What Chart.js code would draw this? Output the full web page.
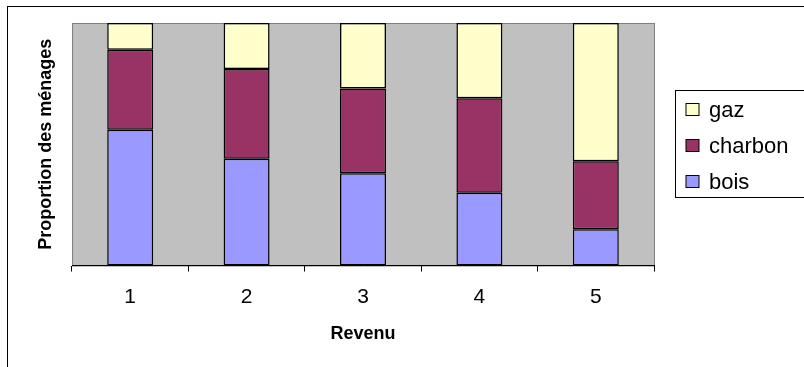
<!DOCTYPE html>
<html>
<head>
<meta charset="utf-8">
<script src="https://cdn.jsdelivr.net/npm/chart.js@4"></script>
<style>
  html, body { margin: 0; padding: 0; background: #fff; }
  #wrap { width: 804px; height: 367px; }
</style>
</head>
<body>
<div id="wrap"><canvas id="chart" width="804" height="367"></canvas></div>
<script>
// categories (revenu) and shares of households per fuel, in %
const revenus = ['1', '2', '3', '4', '5'];
const bois = [56, 44, 38, 30, 15];
const charbon = [33, 37, 35, 39, 28];
const gaz = [11, 19, 27, 31, 57];

const FONT = "'Liberation Sans', Arial, sans-serif";

// gray plot area + outer frame + legend box (Excel style)
const excelFrame = {
  id: 'excelFrame',
  beforeDraw(chart) {
    const { ctx, chartArea: a } = chart;
    ctx.save();
    ctx.fillStyle = '#fff';
    ctx.fillRect(0, 0, chart.width, chart.height);
    ctx.strokeStyle = '#000';
    ctx.lineWidth = 1;
    ctx.strokeRect(7.5, 6.5, chart.width + 10, chart.height + 10);
    ctx.fillStyle = '#c0c0c0';
    ctx.fillRect(a.left, a.top, a.right - a.left, a.bottom - a.top);
    ctx.strokeStyle = '#808080';
    ctx.strokeRect(a.left + 0.5, a.top + 0.5, a.right - a.left, a.bottom - a.top);
    ctx.restore();
  },
  afterDraw(chart) {
    const { ctx } = chart;
    const sets = chart.data.datasets.slice().reverse();
    ctx.save();
    ctx.strokeStyle = '#000';
    ctx.lineWidth = 1;
    ctx.strokeRect(675.5, 90.5, 140, 107);
    ctx.font = '22px ' + FONT;
    ctx.textBaseline = 'middle';
    sets.forEach((ds, i) => {
      const y = 109.5 + i * 36;
      ctx.fillStyle = ds.backgroundColor;
      ctx.fillRect(686, y - 6, 13, 12);
      ctx.strokeRect(686, y - 6, 13, 12);
      ctx.fillStyle = '#000';
      ctx.fillText(ds.label, 709, y + 1);
    });
    ctx.restore();
  }
};

const common = {
  borderColor: '#000',
  borderWidth: 1.5,
  borderSkipped: false,
  categoryPercentage: 1,
  barPercentage: 0.395
};

new Chart(document.getElementById('chart'), {
  type: 'bar',
  data: {
    labels: revenus,
    datasets: [
      { label: 'bois', data: bois, backgroundColor: '#9999ff', ...common },
      { label: 'charbon', data: charbon, backgroundColor: '#993366', ...common },
      { label: 'gaz', data: gaz, backgroundColor: '#ffffcc', ...common }
    ]
  },
  options: {
    responsive: false,
    animation: false,
    layout: { padding: { left: 7, top: 23, right: 150, bottom: 0 } },
    scales: {
      x: {
        stacked: true,
        afterFit(scale) { scale.height = 101.5; },
        grid: { drawOnChartArea: false, drawTicks: true, tickLength: 6, color: '#000', offset: true },
        border: { display: true, color: '#000', width: 1 },
        ticks: { color: '#000', font: { family: FONT, size: 21 }, padding: 13 },
        title: {
          display: true, text: 'Revenu', color: '#000',
          font: { family: FONT, size: 18, weight: 'bold' },
          padding: { top: 0, bottom: 22 }
        }
      },
      y: {
        stacked: true,
        min: 0,
        max: 100,
        afterFit(scale) { scale.width = 65; },
        grid: { display: false },
        border: { display: false },
        ticks: { display: false },
        title: {
          display: true, text: 'Proportion des ménages', color: '#000',
          font: { family: FONT, size: 18, weight: 'bold' },
          padding: { top: 28, bottom: 0 }
        }
      }
    },
    plugins: {
      legend: { display: false },
      tooltip: { enabled: false }
    }
  },
  plugins: [excelFrame]
});
</script>
</body>
</html>
